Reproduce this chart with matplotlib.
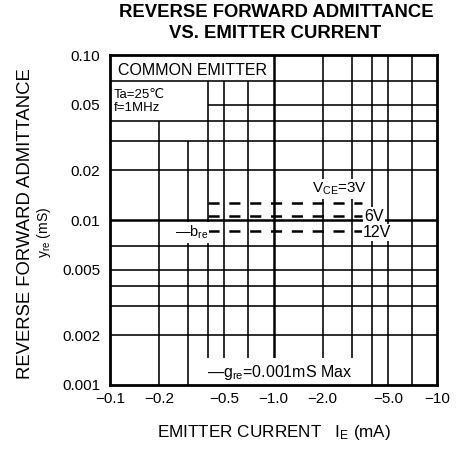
import numpy as np
import matplotlib
matplotlib.use("Agg")
import matplotlib.pyplot as plt
from matplotlib.ticker import NullLocator

plt.rcParams['font.family'] = ['Liberation Sans', 'DejaVu Sans']
plt.rcParams['mathtext.fontset'] = 'custom'
plt.rcParams['mathtext.rm'] = 'Liberation Sans'
plt.rcParams['mathtext.it'] = 'Liberation Sans:italic'
plt.rcParams['mathtext.bf'] = 'Liberation Sans:bold'
plt.rcParams['lines.scale_dashes'] = False

# ---- data ----
ie_ma = np.array([-0.4, -3.5])            # emitter current (mA)
yre_vce3 = np.array([0.0126, 0.0126])     # b_re, VCE=3V (mS)
yre_vce6 = np.array([0.0106, 0.0106])     # b_re, VCE=6V
yre_vce12 = np.array([0.0086, 0.0086])    # b_re, VCE=12V

x_ticks = [0.1, 0.2, 0.5, 1, 2, 5, 10]
x_ticklabels = ["\u22120.1", "\u22120.2", "\u22120.5", "\u22121.0", "\u22122.0", "\u22125.0", "\u221210"]
y_ticks = [0.001, 0.002, 0.005, 0.01, 0.02, 0.05, 0.1]
y_ticklabels = ["0.001", "0.002", "0.005", "0.01", "0.02", "0.05", "0.10"]

x_grid = [0.2, 0.3, 0.4, 0.5, 0.7, 1, 2, 3, 4, 5, 7]
y_grid = [0.002, 0.003, 0.004, 0.005, 0.007, 0.01, 0.02, 0.03, 0.04, 0.05, 0.07]
# grid gaps (layout of the printed chart)
v_top = {0.2: 0.04, 0.3: 0.03, 0.4: 0.07, 0.5: 0.07, 0.7: 0.07}
h_left = {0.05: 0.4}

W, H = 458, 453
fig = plt.figure(figsize=(W / 100, H / 100), dpi=100)
ax = fig.add_axes([110 / W, 1 - 385 / H, 327 / W, 330 / H])
ax.set_xscale('log')
ax.set_yscale('log')
ax.set_xlim(0.1, 10)
ax.set_ylim(0.001, 0.1)

for xv in x_grid:
    lw = 1.8 if xv == 1 else 1.15
    ax.vlines(xv, 0.001, v_top.get(xv, 0.1), color='black', lw=lw, zorder=1)
for yv in y_grid:
    lw = 1.8 if yv == 0.01 else 1.15
    ax.hlines(yv, h_left.get(yv, 0.1), 10, color='black', lw=lw, zorder=1)

for ys in (yre_vce3, yre_vce6, yre_vce12):
    ax.plot(np.abs(ie_ma), ys, color='black', lw=1.8, dashes=(8, 7), zorder=2)

ax.set_xticks(x_ticks)
ax.set_xticklabels(x_ticklabels)
ax.set_yticks(y_ticks)
ax.set_yticklabels(y_ticklabels)
ax.xaxis.set_minor_locator(NullLocator())
ax.yaxis.set_minor_locator(NullLocator())
ax.tick_params(axis='both', length=0, labelsize=11)
ax.tick_params(axis='x', pad=5)
ax.tick_params(axis='y', pad=7)
for sp in ax.spines.values():
    sp.set_linewidth(2.0)
    sp.set_zorder(5)

def fx(px):
    return (px - 110) / 327

def fy(py):
    return (385 - py) / 330

wb = dict(facecolor='white', edgecolor='none', pad=1.0)
ax.text(fx(118), fy(70.5), "COMMON EMITTER", transform=ax.transAxes, fontsize=11.5,
        ha='left', va='center', zorder=4)
ax.text(fx(114), fy(94.5), "Ta=25\u2103", transform=ax.transAxes, fontsize=9.5,
        ha='left', va='center', zorder=4)
ax.text(fx(114), fy(108), "f=1MHz", transform=ax.transAxes, fontsize=9.5,
        ha='left', va='center', zorder=4)
ax.text(fx(340), fy(189), "V$_{\\rm CE}$=3V", transform=ax.transAxes, fontsize=11,
        ha='center', va='center', zorder=4, bbox=wb)
ax.text(fx(364), fy(216), "6V", transform=ax.transAxes, fontsize=11.5,
        ha='left', va='center', zorder=4, bbox=wb)
ax.text(fx(363), fy(232.5), "12V", transform=ax.transAxes, fontsize=11.5,
        ha='left', va='center', zorder=4, bbox=wb)
ax.text(fx(208), fy(232.5), "\u2014b$_{\\rm re}$", transform=ax.transAxes, fontsize=10.5,
        ha='right', va='center', zorder=4, bbox=wb)
ax.text(fx(207), fy(372), "\u2014g$_{\\rm re}$=0.001mS Max", transform=ax.transAxes, fontsize=11.5,
        ha='left', va='center', zorder=4,
        bbox=dict(facecolor='white', edgecolor='none', pad=3.5))

fig.text(276 / W, 1 - 17 / H, "REVERSE FORWARD ADMITTANCE", ha='center', va='baseline',
         fontsize=13.3, fontweight='bold')
fig.text(275 / W, 1 - 38 / H, "VS. EMITTER CURRENT", ha='center', va='baseline',
         fontsize=13.3, fontweight='bold')
fig.text(274 / W, 1 - 437 / H, "EMITTER CURRENT   I$_{\\rm E}$ (mA)", ha='center', va='baseline',
         fontsize=12.3)
fig.text(30 / W, 1 - 224 / H, "REVERSE FORWARD ADMITTANCE", rotation=90, rotation_mode='anchor',
         ha='center', va='baseline', fontsize=13.3)
fig.text(48 / W, 1 - 232 / H, "y$_{\\rm re}$ (mS)", rotation=90, rotation_mode='anchor',
         ha='center', va='baseline', fontsize=10)

fig.savefig("out.png", dpi=100)
